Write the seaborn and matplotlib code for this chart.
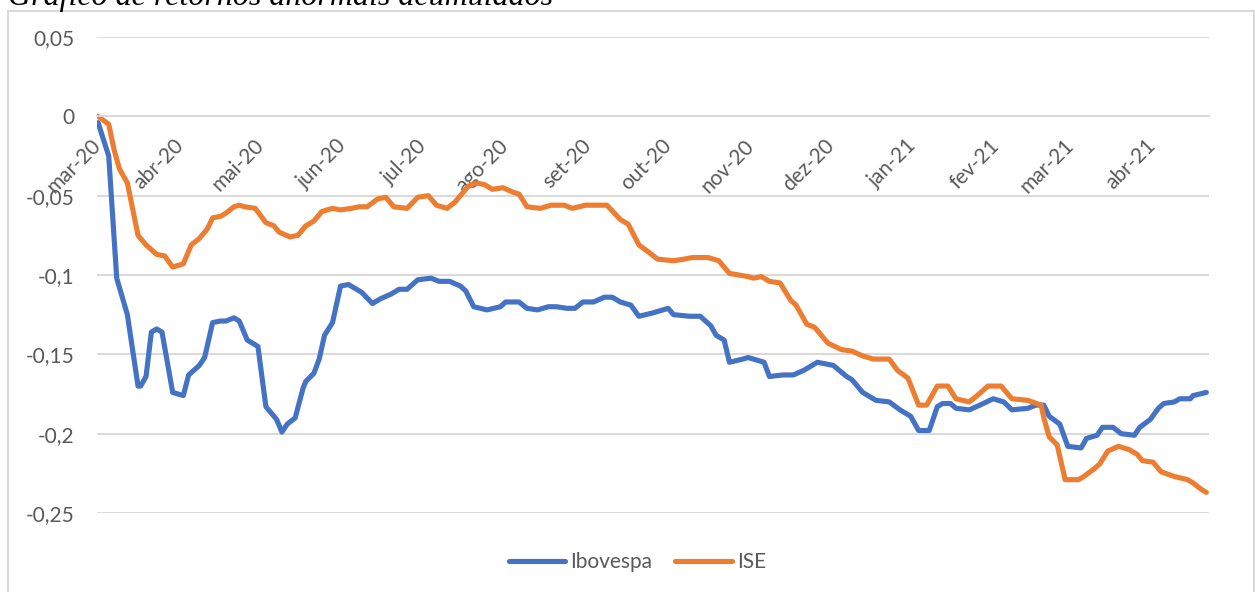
import matplotlib
matplotlib.use("Agg")
import matplotlib.pyplot as plt
import matplotlib.ticker as mticker
from matplotlib.patches import Rectangle
import seaborn as sns
import pandas as pd

# dias corridos desde o inicio da janela (11/03/2020) e retorno anormal acumulado
start_date = "2020-03-11"

ibov_day = [0, 4, 7, 11, 15, 16, 18, 20, 22, 24, 28, 32, 34, 38, 40, 43, 46, 48, 51, 53,
            56, 60, 63, 67, 69, 71, 74, 77, 78, 81, 83, 85, 88, 91, 94, 99, 103, 106, 110, 113,
            116, 120, 125, 128, 132, 136, 138, 141, 146, 151, 153, 158, 161, 165, 169, 172, 176, 179, 182, 186,
            190, 193, 196, 200, 203, 208, 214, 216, 222, 226, 230, 232, 235, 237, 242, 244, 250, 252, 257, 261,
            265, 270, 276, 281, 283, 287, 292, 297, 301, 305, 308, 312, 315, 317, 320, 322, 327, 331, 336, 340,
            343, 349, 352, 355, 357, 361, 364, 369, 371, 375, 377, 381, 384, 389, 391, 395, 398, 400, 404, 406,
            410, 411, 416]
ibov_ret = [-0.004, -0.025, -0.102, -0.125, -0.170, -0.170, -0.164, -0.136, -0.134, -0.136,
            -0.174, -0.176, -0.163, -0.157, -0.152, -0.130, -0.129, -0.129, -0.127, -0.129,
            -0.141, -0.145, -0.183, -0.191, -0.199, -0.194, -0.190, -0.171, -0.167, -0.162,
            -0.153, -0.138, -0.130, -0.107, -0.106, -0.111, -0.118, -0.115, -0.112, -0.109,
            -0.109, -0.103, -0.102, -0.104, -0.104, -0.107, -0.110, -0.120, -0.122, -0.120,
            -0.117, -0.117, -0.121, -0.122, -0.120, -0.120, -0.121, -0.121, -0.117, -0.117,
            -0.114, -0.114, -0.117, -0.119, -0.126, -0.124, -0.121, -0.125, -0.126, -0.126,
            -0.132, -0.138, -0.141, -0.155, -0.153, -0.152, -0.155, -0.164, -0.163, -0.163,
            -0.160, -0.155, -0.157, -0.164, -0.166, -0.174, -0.179, -0.180, -0.185, -0.189,
            -0.198, -0.198, -0.183, -0.181, -0.181, -0.184, -0.185, -0.182, -0.178, -0.180,
            -0.185, -0.184, -0.182, -0.182, -0.189, -0.194, -0.208, -0.209, -0.203, -0.201,
            -0.196, -0.196, -0.200, -0.201, -0.196, -0.191, -0.184, -0.181, -0.180, -0.178,
            -0.178, -0.176, -0.174]

ise_day = [0, 4, 6, 8, 11, 15, 18, 22, 25, 28, 32, 35, 38, 41, 43, 46, 48, 51, 53, 55,
           59, 63, 66, 68, 72, 75, 78, 81, 84, 88, 91, 95, 98, 101, 105, 108, 111, 116, 120, 124,
           127, 131, 134, 139, 142, 145, 148, 152, 156, 158, 161, 166, 170, 175, 178, 183, 188, 191, 196, 199,
           203, 207, 210, 216, 220, 223, 229, 233, 237, 244, 246, 249, 252, 256, 260, 262, 266, 269, 274, 279,
           283, 287, 291, 297, 300, 304, 308, 311, 315, 319, 322, 327, 330, 334, 339, 341, 343, 349, 354, 355,
           357, 360, 363, 368, 370, 374, 376, 379, 383, 387, 390, 392, 396, 399, 404, 409, 411, 414, 416]
ise_ret = [0.000, -0.005, -0.021, -0.033, -0.042, -0.075, -0.081, -0.087, -0.088, -0.095,
           -0.093, -0.081, -0.077, -0.071, -0.064, -0.063, -0.061, -0.057, -0.056, -0.057,
           -0.058, -0.067, -0.069, -0.073, -0.076, -0.075, -0.069, -0.066, -0.060, -0.058,
           -0.059, -0.058, -0.057, -0.057, -0.052, -0.051, -0.057, -0.058, -0.051, -0.050,
           -0.056, -0.058, -0.054, -0.044, -0.042, -0.043, -0.046, -0.045, -0.048, -0.049,
           -0.057, -0.058, -0.056, -0.056, -0.058, -0.056, -0.056, -0.056, -0.065, -0.068,
           -0.081, -0.086, -0.090, -0.091, -0.090, -0.089, -0.089, -0.091, -0.099, -0.101,
           -0.102, -0.101, -0.104, -0.105, -0.116, -0.119, -0.131, -0.133, -0.143, -0.147,
           -0.148, -0.151, -0.153, -0.153, -0.160, -0.165, -0.182, -0.182, -0.170, -0.170,
           -0.178, -0.180, -0.176, -0.170, -0.170, -0.174, -0.178, -0.179, -0.182, -0.190,
           -0.202, -0.207, -0.229, -0.229, -0.227, -0.222, -0.219, -0.211, -0.208, -0.210,
           -0.213, -0.217, -0.218, -0.224, -0.227, -0.229, -0.231, -0.235, -0.237]

series_names = ["Ibovespa", "ISE"]
series_colors = ["#4472C4", "#ED7D31"]
month_labels = ["mar-20", "abr-20", "mai-20", "jun-20", "jul-20", "ago-20", "set-20",
                "out-20", "nov-20", "dez-20", "jan-21", "fev-21", "mar-21", "abr-21"]
yticks = [0.05, 0, -0.05, -0.1, -0.15, -0.2, -0.25]
title = "Gráfico de retornos anormais acumulados"

t0 = pd.Timestamp(start_date)
df = pd.concat([
    pd.DataFrame({"data": t0 + pd.to_timedelta(ibov_day, unit="D"), "retorno": ibov_ret, "serie": series_names[0]}),
    pd.DataFrame({"data": t0 + pd.to_timedelta(ise_day, unit="D"), "retorno": ise_ret, "serie": series_names[1]}),
])

sns.set_theme(style="white")
plt.rcParams["font.family"] = ["Lato", "DejaVu Sans"]

fig = plt.figure(figsize=(12.55, 5.92), dpi=100)
ax = fig.add_axes([97 / 1255, 1 - 513 / 592, 1112 / 1255, 476 / 592])

sns.lineplot(data=df, x="data", y="retorno", hue="serie", palette=series_colors,
             estimator=None, linewidth=3.7, legend=False, ax=ax,
             solid_joinstyle="round", solid_capstyle="round")

ax.set_ylim(-0.25, 0.05)
ax.set_xlim(t0 - pd.Timedelta(days=0.4), t0 + pd.Timedelta(days=417))
ax.set_yticks(yticks)
ax.yaxis.set_major_formatter(mticker.FuncFormatter(
    lambda v, p: f"{round(v, 2) + 0:g}".replace(".", ",")))
ax.grid(axis="y", color="#d9d9d9", linewidth=1.4)
ax.set_axisbelow(True)

ticks = [t0 + pd.DateOffset(months=i) for i in range(len(month_labels))]
ax.set_xticks(ticks)
ax.set_xticklabels(month_labels)
for s in ["top", "right", "left"]:
    ax.spines[s].set_visible(False)
ax.spines["bottom"].set_position(("data", 0))
ax.spines["bottom"].set_color("#d9d9d9")
ax.spines["bottom"].set_linewidth(1.4)
ax.tick_params(axis="x", length=0, pad=19, labelsize=15, labelcolor="#595959")
ax.tick_params(axis="y", length=0, pad=16, labelsize=15, labelcolor="#595959")
plt.setp(ax.get_xticklabels(), rotation=45, ha="right", va="center", rotation_mode="anchor")
ax.set_xlabel("")
ax.set_ylabel("")

leg = fig.legend(ax.lines[:2], series_names, loc="center", bbox_to_anchor=(0.508, 1 - 562 / 592),
                 ncol=2, frameon=False, fontsize=15, handlelength=2.7, handletextpad=0.25,
                 columnspacing=1.1, labelcolor="#595959")
for h in leg.get_lines():
    h.set_solid_capstyle("round")
    h.set_linewidth(3.7)

fig.patches.append(Rectangle((7.5 / 1255, -0.05), 1246 / 1255, 1.05 - 11 / 592,
                             transform=fig.transFigure, fill=False,
                             edgecolor="#d9d9d9", linewidth=1.5))
# titulo aparece cortado no topo, como na figura original
fig.text(8 / 1255, 1 - 5 / 592, title, family="Liberation Serif", fontstyle="italic",
         fontsize=23, va="baseline", ha="left", color="black")

fig.savefig("out.png", dpi=100)
